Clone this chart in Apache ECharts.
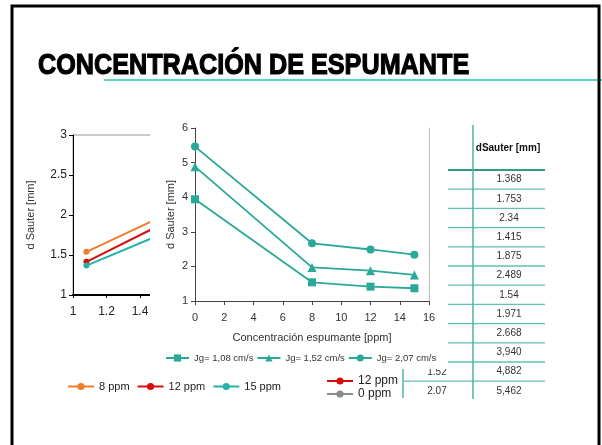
<!DOCTYPE html>
<html>
<head>
<meta charset="utf-8">
<script src="https://cdn.jsdelivr.net/npm/echarts@6/dist/echarts.min.js"></script>
<style>
html, body { margin: 0; padding: 0; background: #fff; }
#main { width: 602px; height: 445px; }
</style>
</head>
<body>
<div id="main"></div>
<script>
// gas velocities Jg [cm/s] and frother concentrations [ppm]
const jgValues = [1.08, 1.52, 2.07]
const ppmValues = [0, 8, 12, 15]
const jgNames = ['Jg= 1,08 cm/s', 'Jg= 1,52 cm/s', 'Jg= 2,07 cm/s']

// d Sauter [mm] per concentration, one value per Jg
const d0 = [3.940, 4.882, 5.462]
const d8 = [1.54, 1.971, 2.668]
const d12 = [1.415, 1.875, 2.489]
const d15 = [1.368, 1.753, 2.34]

// table column texts as printed on the slide
const tableJg = ['1.08', '1.52', '2.07', '1.08', '1.52', '2.07', '1.08', '1.52', '2.07', '1.08', '1.52', '2.07']
const tableD = ['1.368', '1.753', '2.34', '1.415', '1.875', '2.489', '1.54', '1.971', '2.668', '3,940', '4,882', '5,462']

const FONT = '"Liberation Sans", Arial, sans-serif'
const TEAL = '#2aa898'

const chart = echarts.init(document.getElementById('main'))

// small table on the right (mostly hidden behind the middle chart)
const tableGraphics = []
const rowTop = 170
const rowH = 19.2
for (let k = 0; k < tableD.length; k++) {
    tableGraphics.push({
        type: 'line', z: 5,
        shape: { x1: 403, y1: rowTop + k * rowH, x2: 545, y2: rowTop + k * rowH },
        style: { stroke: k === 0 ? '#2a9d88' : '#62c2b2', lineWidth: k === 0 ? 2 : 1.3 }
    })
    const cy = rowTop + (k + 0.5) * rowH
    tableGraphics.push({
        type: 'text', z: 5, x: 509, y: cy,
        style: { text: tableD[k], font: '10px ' + FONT, fill: '#333', align: 'center', verticalAlign: 'middle' }
    })
    tableGraphics.push({
        type: 'text', z: 5, x: 437, y: cy + 0.5,
        style: { text: tableJg[k], font: '10px ' + FONT, fill: '#333', align: 'center', verticalAlign: 'middle' }
    })
}
tableGraphics.push({
    type: 'line', z: 5,
    shape: { x1: 473, y1: 125, x2: 473, y2: 399 },
    style: { stroke: '#4fb3a3', lineWidth: 1.5 }
})
tableGraphics.push({
    type: 'line', z: 5,
    shape: { x1: 403, y1: 330, x2: 403, y2: 398 },
    style: { stroke: '#4fb3a3', lineWidth: 1.5 }
})
tableGraphics.push({
    type: 'text', z: 5, x: 508, y: 148,
    style: { text: 'dSauter [mm]', font: 'bold 10px ' + FONT, fill: '#111', align: 'center', verticalAlign: 'middle' }
})

const middleSeries = jgNames.map((name, i) => {
    return {
        name: name,
        type: 'line',
        xAxisIndex: 1,
        yAxisIndex: 1,
        z: 60,
        symbol: ['rect', 'triangle', 'circle'][i],
        symbolSize: [8, 9, 8][i],
        itemStyle: { color: TEAL },
        lineStyle: { color: TEAL, width: 1.8 },
        data: ppmValues.map((p, j) => [p, [d0, d8, d12, d15][j][i]])
    }
})

function leftSeries (name, values, color) {
    return {
        name: name,
        type: 'line',
        xAxisIndex: 0,
        yAxisIndex: 0,
        symbol: 'circle',
        symbolSize: 6,
        itemStyle: { color: color },
        lineStyle: { color: color, width: 2 },
        data: jgValues.map((x, i) => [x, values[i]])
    }
}

const option = {
    animation: false,
    textStyle: { fontFamily: FONT },
    grid: [
        { left: 73, top: 135, width: 201, height: 160, show: true, borderColor: '#999', borderWidth: 1, backgroundColor: 'transparent' },
        { left: 195, top: 128, width: 234, height: 173, show: false }
    ],
    xAxis: [
        {
            gridIndex: 0, type: 'value', min: 1, max: 2.2, interval: 0.2,
            axisLine: { show: true, lineStyle: { color: '#000', width: 2 } },
            axisTick: { show: true, length: 3, lineStyle: { color: '#000' } },
            axisLabel: { fontSize: 12, color: '#222', margin: 11 },
            splitLine: { show: false }
        },
        {
            gridIndex: 1, type: 'value', min: 0, max: 16, interval: 2, z: 60,
            name: 'Concentración espumante [ppm]', nameLocation: 'middle', nameGap: 31,
            nameTextStyle: { fontSize: 11, color: '#333' },
            axisLine: { show: true, lineStyle: { color: '#444', width: 1 } },
            axisTick: { show: true, length: 4, lineStyle: { color: '#444' } },
            axisLabel: { fontSize: 11, color: '#333', margin: 11 },
            splitLine: { show: false }
        }
    ],
    yAxis: [
        {
            gridIndex: 0, type: 'value', min: 1, max: 3, interval: 0.5,
            name: 'd Sauter [mm]', nameLocation: 'middle', nameGap: 37, nameRotate: 90,
            nameTextStyle: { fontSize: 11, color: '#333' },
            axisLine: { show: true, lineStyle: { color: '#000', width: 1 } },
            axisTick: { show: true, length: 4, lineStyle: { color: '#000' } },
            axisLabel: { fontSize: 12, color: '#222', margin: 6 },
            splitLine: { show: false }
        },
        {
            gridIndex: 1, type: 'value', min: 1, max: 6, interval: 1, z: 60,
            name: 'd Sauter [mm]', nameLocation: 'middle', nameGap: 19, nameRotate: 90,
            nameTextStyle: { fontSize: 11, color: '#333' },
            axisLine: { show: true, lineStyle: { color: '#444', width: 1 } },
            axisTick: { show: true, length: 4, lineStyle: { color: '#444' } },
            axisLabel: { fontSize: 11, color: '#333', margin: 7 },
            splitLine: { show: false }
        },
        {
            // right border of the middle plot
            gridIndex: 1, type: 'value', min: 1, max: 6, position: 'right', z: 60,
            axisLine: { show: true, lineStyle: { color: '#bbb', width: 1 } },
            axisTick: { show: false },
            axisLabel: { show: false },
            splitLine: { show: false }
        }
    ],
    legend: [
        {
            data: jgNames, left: 165, top: 353, padding: 0, z: 60,
            itemWidth: 23, itemHeight: 9, itemGap: 3, selectedMode: false,
            textStyle: { fontSize: 9.5, color: '#333' }
        },
        {
            data: ['8 ppm', '12 ppm', '15 ppm'], left: 67, top: 381, padding: 0,
            itemWidth: 26, itemHeight: 9, itemGap: 7, selectedMode: false,
            textStyle: { fontSize: 11, color: '#222' }
        },
        {
            data: ['12 ppm', '0 ppm'], orient: 'vertical', left: 326, top: 375, padding: 0,
            itemWidth: 26, itemHeight: 9, itemGap: 1, selectedMode: false,
            textStyle: { fontSize: 12, color: '#222' }
        }
    ],
    graphic: [
        {
            type: 'rect', z: 100,
            shape: { x: 12, y: 6, width: 587, height: 470 },
            style: { fill: 'none', stroke: '#000', lineWidth: 3 }
        },
        {
            type: 'line', z: 1,
            shape: { x1: 104, y1: 80, x2: 602, y2: 80 },
            style: { stroke: '#5dd3c0', lineWidth: 2 }
        },
        {
            type: 'text', z: 101, x: 38, y: 66, scaleX: 0.84,
            style: {
                text: 'CONCENTRACIÓN DE ESPUMANTE', font: 'bold 30px ' + FONT,
                fill: '#000', stroke: '#000', lineWidth: 1.2, verticalAlign: 'middle'
            }
        },
        ...tableGraphics,
        {
            // white panel of the middle chart covering the others
            type: 'rect', z: 50,
            shape: { x: 150, y: 112, width: 298, height: 257 },
            style: { fill: '#fff' }
        }
    ],
    series: [
        leftSeries('8 ppm', d8, '#ee7d2a'),
        leftSeries('12 ppm', d12, '#d40e0e'),
        leftSeries('15 ppm', d15, '#25b3a8'),
        leftSeries('0 ppm', d0, '#8c8c8c'),
        ...middleSeries
    ]
}

chart.setOption(option)
</script>
</body>
</html>
